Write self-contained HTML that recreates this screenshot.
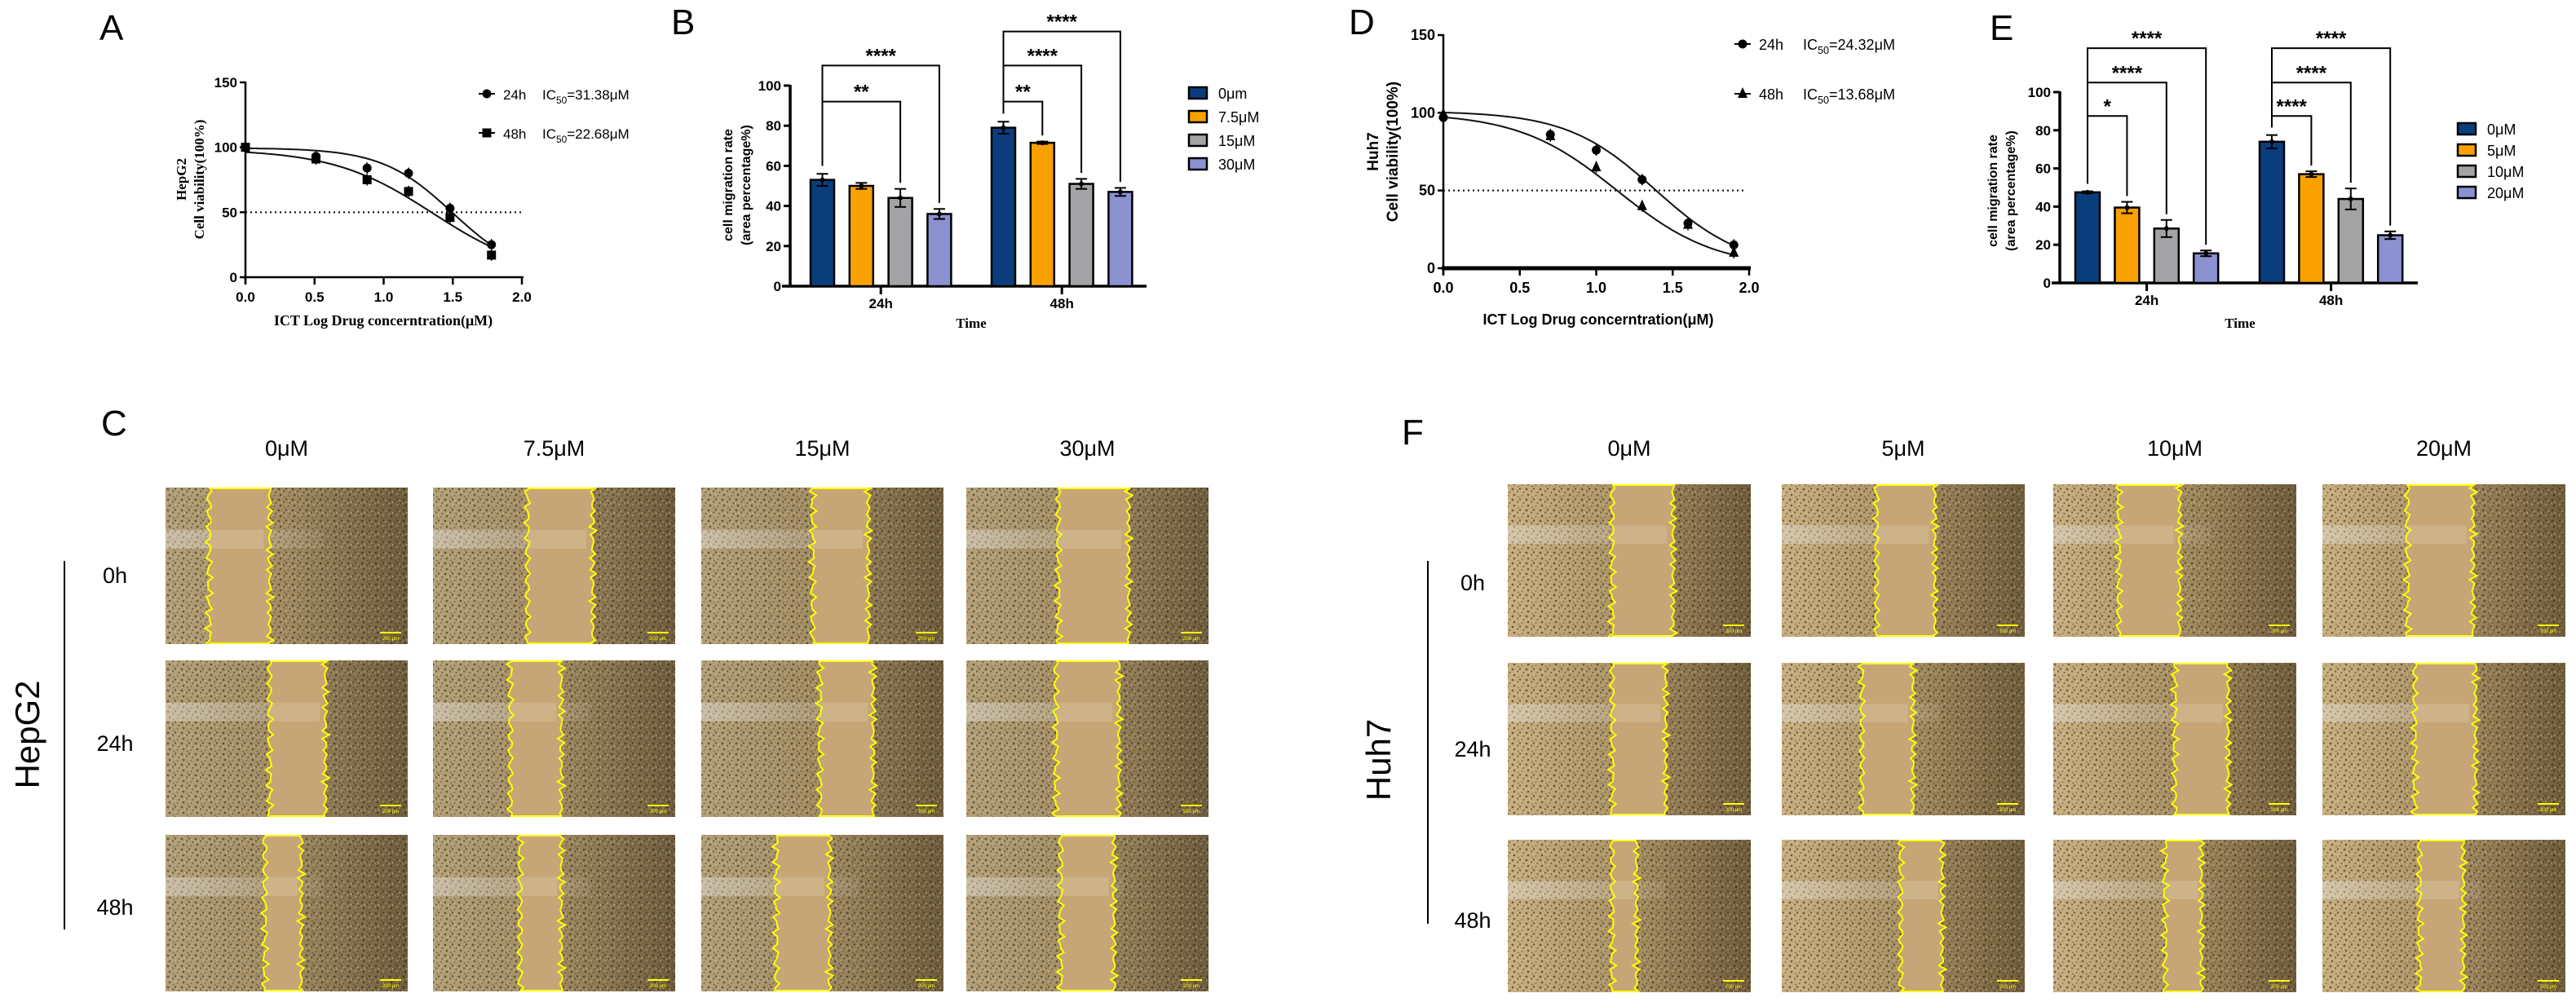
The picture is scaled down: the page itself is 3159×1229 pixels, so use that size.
<!DOCTYPE html>
<html><head><meta charset="utf-8">
<style>
html,body{margin:0;padding:0;background:#fff;}
svg{display:block;}
text{font-family:"Liberation Sans",Arial,sans-serif;}
.tm{font-family:"Liberation Serif","Times New Roman",serif;font-weight:bold;}
.b{font-weight:bold;}
</style></head>
<body>
<svg id="fig" width="3159" height="1229" viewBox="0 0 3159 1229" xmlns="http://www.w3.org/2000/svg">
<defs>
<pattern id="cells" width="17" height="13" patternUnits="userSpaceOnUse">
<circle cx="2" cy="2" r="1.4" fill="#2e2414"/><circle cx="8" cy="4.5" r="1.1" fill="#3a2e1a"/>
<circle cx="4" cy="9" r="1.3" fill="#2a2012"/><circle cx="13.5" cy="10" r="0.9" fill="#4a3c22"/>
<circle cx="11" cy="1.5" r="1.2" fill="#33281a"/><circle cx="15.5" cy="6" r="1" fill="#3a2e1a"/>
<circle cx="9" cy="11.5" r="0.8" fill="#2e2414"/>
<circle cx="5.5" cy="5" r="0.9" fill="#e8d8a8"/><circle cx="1" cy="6.5" r="0.8" fill="#e2d0a0"/>
<circle cx="14" cy="3" r="0.7" fill="#f0e0b0"/><circle cx="11" cy="8" r="0.8" fill="#e8d8a8"/>
</pattern>
<linearGradient id="bandL" x1="0" x2="1" y1="0" y2="0"><stop offset="0" stop-color="#e6e2dc" stop-opacity="0.45"/><stop offset="1" stop-color="#e6e2dc" stop-opacity="0.08"/></linearGradient>
<linearGradient id="bgC" x1="0" x2="1"><stop offset="0" stop-color="#b3a078"/><stop offset="0.5" stop-color="#a08b62"/><stop offset="1" stop-color="#6e5d3e"/></linearGradient>
<linearGradient id="bgF" x1="0" x2="1"><stop offset="0" stop-color="#c8af80"/><stop offset="0.5" stop-color="#a99064"/><stop offset="1" stop-color="#705d3c"/></linearGradient>
</defs>
<g id="root"></g>
</svg>
<script>
// ===== Panel A data (HepG2 viability) =====
const aLogConc = [0, 0.51, 0.88, 1.18, 1.48, 1.78];
const a24 = [100, 93, 84, 80, 53, 25];
const a48 = [100, 91, 75, 66, 46, 17];
const aIC50 = [31.38, 22.68];
const aHill = [1.7, 1.2];
const aTop = [99.5, 98.5];
const aYTicks = [0, 50, 100, 150];
const aXTicks = ["0.0", "0.5", "1.0", "1.5", "2.0"];
// ===== Panel D data (Huh7 viability) =====
const dLogConc = [0, 0.7, 1.0, 1.3, 1.6, 1.9];
const d24 = [97, 86, 76, 57, 29, 15];
const d48 = [99, 85, 65, 40, 28, 10];
const dIC50 = [24.32, 13.68];
const dHill = [1.5, 1.35];
const dTop = [101, 100];
// ===== Panel B data (HepG2 migration) =====
const bGroups = ["24h", "48h"];
const bSeries = ["0\u03bcm", "7.5\u03bcM", "15\u03bcM", "30\u03bcM"];
const b24 = [53, 50, 44, 36];
const b48 = [79, 71.5, 51, 47];
const b24err = [3, 1.5, 4.5, 2.5];
const b48err = [3, 0.6, 2.5, 2];
const bYTicks = [0, 20, 40, 60, 80, 100];
const bSig = [[0,0,2,"**",92],[0,0,3,"****",110],[1,0,1,"**",92],[1,0,2,"****",110],[1,0,3,"****",127]];
// ===== Panel E data (Huh7 migration) =====
const eSeries = ["0\u03bcM", "5\u03bcM", "10\u03bcM", "20\u03bcM"];
const e24 = [47.5, 39.5, 28.5, 15.5];
const e48 = [74, 57, 44, 25];
const e24err = [0.5, 3, 4.5, 1.5];
const e48err = [3.5, 1.5, 5.5, 2];
const eSig = [[0,0,1,"*",87.5],[0,0,2,"****",105],[0,0,3,"****",123],[1,0,1,"****",87.5],[1,0,2,"****",105],[1,0,3,"****",123]];
const barColors = ["#0a3d7c", "#f9a100", "#a3a3a6", "#8b91d1"];
// ===== Panel C / F wound gaps (fraction of image width) =====
const cCols = ["0\u03bcM", "7.5\u03bcM", "15\u03bcM", "30\u03bcM"];
const fCols = ["0\u03bcM", "5\u03bcM", "10\u03bcM", "20\u03bcM"];
const rowsT = ["0h", "24h", "48h"];
const cGapL = [[.18,.39,.46,.38],[.43,.32,.49,.37],[.41,.36,.31,.39]];
const cGapR = [[.43,.66,.69,.67],[.66,.53,.71,.63],[.56,.53,.53,.61]];
const fGapL = [[.43,.39,.27,.35],[.43,.33,.50,.38],[.43,.49,.46,.40]];
const fGapR = [[.68,.63,.52,.62],[.65,.54,.72,.63],[.53,.66,.61,.58]];

const NS = "http://www.w3.org/2000/svg";
const root = document.getElementById("root");
function el(tag, attrs, parent, txt) {
  const e = document.createElementNS(NS, tag);
  for (const k in attrs) e.setAttribute(k, attrs[k]);
  if (txt !== undefined) e.textContent = txt;
  (parent || root).appendChild(e);
  return e;
}
function grp(name, parent) {
  const g = el("g", {}, parent);
  
  
  return g;
}
function label(g, name, x, y, txt, attrs) {
  const t = el("text", Object.assign({x: x, y: y}, attrs || {}), g, txt);
  
  
  return t;
}

const letters = grp("panel-letters");
[["A",122,49],["B",823,42],["C",124,534],["D",1654,42],["E",2440,49],["F",1719,545]].forEach(l => {
  label(letters, "panel-label-" + l[0].toLowerCase(), l[1], l[2], l[0], {"font-size": 44});
});

function doseChart(cfg) {
  const g = grp(cfg.name);
  const sx = v => cfg.x0 + v / 2 * (cfg.x1 - cfg.x0);
  const sy = v => cfg.y0 - v / 150 * (cfg.y0 - cfg.y150);
  const ax = grp("axes", g);
  const lw = cfg.heavyX ? 5 : 2.5;
  el("line", {x1: cfg.x0, y1: cfg.y150 - 1, x2: cfg.x0, y2: cfg.y0 + 8, stroke: "#000", "stroke-width": 2.5}, ax);
  el("line", {x1: cfg.x0 - 2, y1: cfg.y0, x2: cfg.x1 + 2, y2: cfg.y0, stroke: "#000", "stroke-width": lw}, ax);
  aYTicks.forEach(t => {
    el("line", {x1: cfg.x0 - 7, y1: sy(t), x2: cfg.x0, y2: sy(t), stroke: "#000", "stroke-width": 2.5}, ax);
    label(ax, "y-tick-label", cfg.x0 - 10, sy(t) + 6, String(t), {"text-anchor": "end", "font-size": cfg.tickFs, "class": "b"});
  });
  aXTicks.forEach(t => {
    const x = sx(parseFloat(t));
    el("line", {x1: x, y1: cfg.y0, x2: x, y2: cfg.y0 + 9, stroke: "#000", "stroke-width": 2.5}, ax);
    label(ax, "x-tick-label", x, cfg.y0 + 30, t, {"text-anchor": "middle", "font-size": cfg.tickFs, "class": "b"});
  });
  el("line", {x1: cfg.x0, y1: sy(50), x2: cfg.dotEnd, y2: sy(50), stroke: "#000", "stroke-width": 2, "stroke-dasharray": "2,4"}, g);
  label(g, "x-axis-title", cfg.xlX, cfg.xlY, "ICT Log Drug concerntration(\u03bcM)", {"text-anchor": "middle", "font-size": cfg.xlFs, "class": cfg.serif ? "tm" : "b"});
  cfg.ylab.forEach((yl, i) => {
    label(g, i === 0 ? "y-axis-cell-line" : "y-axis-title", yl[0], cfg.ylY, yl[1], {"text-anchor": "middle", "font-size": cfg.ylFs, "class": cfg.serif ? "tm" : "b", transform: "rotate(-90 " + yl[0] + " " + cfg.ylY + ")"});
  });
  cfg.series.forEach((s, si) => {
    const sg = grp("series-" + s.label, g);
    const ic = Math.log10(s.ic50);
    let d = "";
    for (let k = 0; k <= 80; k++) {
      const xv = cfg.xs[cfg.xs.length - 1] * k / 80;
      const yv = s.top / (1 + Math.pow(10, (xv - ic) * s.hill));
      d += (k ? "L" : "M") + sx(xv).toFixed(1) + "," + sy(yv).toFixed(1);
    }
    const p = el("path", {d: d, fill: "none", stroke: "#111", "stroke-width": 2}, sg);
    
    s.vals.forEach((v, i) => {
      const x = sx(cfg.xs[i]), y = sy(v);
      el("line", {x1: x, y1: y - 7, x2: x, y2: y + 7, stroke: "#000", "stroke-width": 1.5}, sg);
      let m;
      if (s.marker === "circle") m = el("circle", {cx: x, cy: y, r: 5.5, fill: "#000"}, sg);
      else if (s.marker === "square") m = el("rect", {x: x - 5.5, y: y - 5.5, width: 11, height: 11, fill: "#000"}, sg);
      else m = el("path", {d: `M${x},${y-8}L${x+6},${y+5}L${x-6},${y+5}Z`, fill: "#000"}, sg);
      
      
    });
    const lg = grp("legend-entry", g);
    const ly = cfg.legY[si], lx = cfg.legX;
    el("line", {x1: lx - 10, y1: ly, x2: lx + 10, y2: ly, stroke: "#000", "stroke-width": 2}, lg);
    if (s.marker === "circle") el("circle", {cx: lx, cy: ly, r: 5.5, fill: "#000"}, lg);
    else if (s.marker === "square") el("rect", {x: lx - 5.5, y: ly - 5.5, width: 11, height: 11, fill: "#000"}, lg);
    else el("path", {d: `M${lx},${ly-8}L${lx+6},${ly+5}L${lx-6},${ly+5}Z`, fill: "#000"}, lg);
    label(lg, "legend-time", lx + 20, ly + 7, s.label, {"font-size": cfg.legFs});
    const t = label(lg, "legend-ic50", lx + cfg.icOff, ly + 7, "", {"font-size": cfg.legFs, "font-family": "Liberation Serif, serif"});
    t.textContent = "IC";
    el("tspan", {dy: 5, "font-size": cfg.legFs * 0.7}, t, "50");
    el("tspan", {dy: -5}, t, "=" + s.ic50.toFixed(2) + "\u03bcM");
  });
}
doseChart({name: "chart-a-hepg2-viability", x0: 301, x1: 640, y0: 340, y150: 101, xs: aLogConc, tickFs: 17, heavyX: false,
  dotEnd: 640, xlX: 470, xlY: 399, xlFs: 18, serif: true, ylY: 220, ylFs: 17, ylab: [[228, "HepG2"], [250, "Cell viability(100%)"]],
  legX: 597, legY: [115, 163], legFs: 17, icOff: 68,
  series: [{label: "24h", vals: a24, ic50: aIC50[0], hill: aHill[0], top: aTop[0], marker: "circle"},
           {label: "48h", vals: a48, ic50: aIC50[1], hill: aHill[1], top: aTop[1], marker: "square"}]});
doseChart({name: "chart-d-huh7-viability", x0: 1770, x1: 2145, y0: 329, y150: 43, xs: dLogConc, tickFs: 18, heavyX: true,
  dotEnd: 2139, xlX: 1960, xlY: 398, xlFs: 18, serif: false, ylY: 186, ylFs: 19, ylab: [[1690, "Huh7"], [1714, "Cell viability(100%)"]],
  legX: 2137, legY: [54, 115], legFs: 18, icOff: 74,
  series: [{label: "24h", vals: d24, ic50: dIC50[0], hill: dHill[0], top: dTop[0], marker: "circle"},
           {label: "48h", vals: d48, ic50: dIC50[1], hill: dHill[1], top: dTop[1], marker: "triangle"}]});

function barChart(cfg) {
  const g = grp(cfg.name);
  const sy = v => cfg.y0 - v / 100 * (cfg.y0 - cfg.y100);
  const bx = (gi, si) => cfg.gLeft[gi] + si * cfg.step;
  const ax = grp("axes", g);
  el("line", {x1: cfg.x0, y1: cfg.y100 - 1, x2: cfg.x0, y2: cfg.y0, stroke: "#000", "stroke-width": 3.5}, ax);
  el("line", {x1: cfg.x0 - 10, y1: cfg.y0, x2: cfg.x1, y2: cfg.y0, stroke: "#000", "stroke-width": 3.5}, ax);
  bYTicks.forEach(t => {
    el("line", {x1: cfg.x0 - 8, y1: sy(t), x2: cfg.x0, y2: sy(t), stroke: "#000", "stroke-width": 3}, ax);
    label(ax, "y-tick-label", cfg.x0 - 11, sy(t) + 6, String(t), {"text-anchor": "end", "font-size": 17, "class": "b"});
  });
  bGroups.forEach((gn, gi) => {
    const cx = bx(gi, 0) + (3 * cfg.step + cfg.w) / 2;
    el("line", {x1: cx, y1: cfg.y0, x2: cx, y2: cfg.y0 + 10, stroke: "#000", "stroke-width": 3}, ax);
    label(ax, "x-tick-label", cx, cfg.y0 + 27, gn, {"text-anchor": "middle", "font-size": 17, "class": "b"});
  });
  label(g, "x-axis-title", cfg.timeX, cfg.timeY, "Time", {"text-anchor": "middle", "font-size": 17, "class": "tm"});
  const yl = cfg.ylX;
  label(g, "y-axis-title", yl, cfg.ylY, "cell migration rate", {"text-anchor": "middle", "font-size": 16, "class": "b", transform: `rotate(-90 ${yl} ${cfg.ylY})`});
  label(g, "y-axis-title-unit", yl + 22, cfg.ylY, "(area percentage%)", {"text-anchor": "middle", "font-size": 16, "class": "b", transform: `rotate(-90 ${yl+22} ${cfg.ylY})`});
  [cfg.v24, cfg.v48].forEach((vals, gi) => {
    const errs = gi ? cfg.e48 : cfg.e24;
    vals.forEach((v, si) => {
      const x = bx(gi, si);
      const r = el("rect", {x: x, y: sy(v), width: cfg.w, height: sy(0) - sy(v), fill: barColors[si], stroke: "#000", "stroke-width": 2.5}, g);
      
      
      const cx = x + cfg.w / 2;
      el("line", {x1: cx, y1: sy(v + errs[si]), x2: cx, y2: sy(v - errs[si]), stroke: "#000", "stroke-width": 2}, g);
      el("line", {x1: cx - 7, y1: sy(v + errs[si]), x2: cx + 7, y2: sy(v + errs[si]), stroke: "#000", "stroke-width": 2}, g);
      el("line", {x1: cx - 7, y1: sy(v - errs[si]), x2: cx + 7, y2: sy(v - errs[si]), stroke: "#000", "stroke-width": 2}, g);
      el("circle", {cx: cx, cy: sy(v), r: 3, fill: "#000"}, g);
    });
  });
  cfg.sig.forEach(s => {
    const sg = grp("significance-bracket", g);
    const vals = s[0] ? cfg.v48 : cfg.v24, errs = s[0] ? cfg.e48 : cfg.e24;
    const xa = bx(s[0], s[1]) + cfg.w / 2, xb = bx(s[0], s[2]) + cfg.w / 2;
    const yb = sy(s[4]);
    const ya = sy(Math.max(vals[s[1]] + errs[s[1]] + 4, s[4] - cfg.legLen));
    const yc = sy(vals[s[2]] + errs[s[2]] + 3);
    el("path", {d: `M${xa},${ya}L${xa},${yb}L${xb},${yb}L${xb},${yc}`, fill: "none", stroke: "#000", "stroke-width": 2}, sg);
    label(sg, "significance-stars", (xa + xb) / 2, yb - 4, s[3], {"text-anchor": "middle", "font-size": 24, "class": "b"});
  });
  cfg.series.forEach((sn, si) => {
    const lg = grp("legend-entry", g);
    const ly = cfg.legY0 + si * cfg.legDy;
    el("rect", {x: cfg.legX, y: ly - 7, width: 22, height: 14, fill: barColors[si], stroke: "#000", "stroke-width": 2.5}, lg);
    label(lg, "legend-label", cfg.legX + 36, ly + 7, sn, {"font-size": 18});
  });
}
barChart({name: "chart-b-hepg2-migration", x0: 969, x1: 1406, y0: 351, y100: 105, gLeft: [994, 1216], step: 47.8, w: 29,
  v24: b24, v48: b48, e24: b24err, e48: b48err, sig: bSig, series: bSeries, legLen: 60,
  timeX: 1191, timeY: 402, ylX: 898, ylY: 227, legX: 1458, legY0: 114, legDy: 29});
barChart({name: "chart-e-huh7-migration", x0: 2526, x1: 2965, y0: 347, y100: 113, gLeft: [2545, 2771], step: 48.4, w: 30,
  v24: e24, v48: e48, e24: e24err, e48: e48err, sig: eSig, series: eSeries, legLen: 60,
  timeX: 2747, timeY: 402, ylX: 2449, ylY: 234, legX: 3014, legY0: 158, legDy: 26});

function photoGrid(cfg) {
  const g = grp(cfg.name);
  cfg.cols.forEach((c, ci) => {
    label(g, "column-header", cfg.colX[ci] + cfg.w / 2, 559, c, {"text-anchor": "middle", "font-size": 27});
  });
  rowsT.forEach((r, ri) => {
    label(g, "row-label", cfg.rowLX, cfg.rowLY[ri], r, {"text-anchor": "middle", "font-size": 27});
  });
  el("line", {x1: cfg.lineX, y1: cfg.lineY[0], x2: cfg.lineX, y2: cfg.lineY[1], stroke: "#000", "stroke-width": 2}, g);
  label(g, "cell-line-label", cfg.cellX, cfg.cellY, cfg.cell, {"text-anchor": "middle", "font-size": 42, transform: `rotate(-90 ${cfg.cellX} ${cfg.cellY})`});
  rowsT.forEach((r, ri) => {
    cfg.cols.forEach((c, ci) => {
      const x = cfg.colX[ci], y = cfg.rowY[ri], w = cfg.w, h = cfg.h;
      const pg = grp("wound-image-" + r + "-" + ci, g);
      el("rect", {x: x, y: y, width: w, height: h, fill: cfg.bg}, pg);
      el("rect", {x: x, y: y, width: w, height: h, fill: "url(#cells)", opacity: 0.6}, pg);
      el("rect", {x: x, y: y + h * 0.27, width: w * 0.65, height: h * 0.12, fill: "url(#bandL)"}, pg);
      const gl = cfg.gl[ri][ci], gr = cfg.gr[ri][ci];
      let dl = "", dr = "", pts = [];
      const N = 40;
      for (let k = 0; k <= N; k++) {
        const yy = y + h * k / N;
        const wl = x + w * gl + 3 * Math.sin(k * 1.7 + ri + ci * 2) + 2 * Math.sin(k * 3.1 + ci);
        pts.push([wl, yy]);
        dl += (k ? "L" : "M") + wl.toFixed(1) + "," + yy.toFixed(1);
      }
      const rpts = [];
      for (let k = N; k >= 0; k--) {
        const yy = y + h * k / N;
        const wr = x + w * gr + 3 * Math.sin(k * 2.3 + ri * 2 + ci) + 2 * Math.cos(k * 2.9 + ri);
        rpts.push([wr, yy]);
        dr += (k === N ? "M" : "L") + wr.toFixed(1) + "," + yy.toFixed(1);
      }
      const poly = pts.concat(rpts).map(p => p[0].toFixed(1) + "," + p[1].toFixed(1)).join(" ");
      const gap = el("polygon", {points: poly, fill: "#c6a676"}, pg);
      
      el("rect", {x: x + w * gl, y: y + h * 0.27, width: w * (gr - gl) * 0.9, height: h * 0.12, fill: "#e8dcc4", opacity: 0.25}, pg);
      el("path", {d: dl, fill: "none", stroke: "#ffff00", "stroke-width": 2}, pg);
      el("path", {d: dr, fill: "none", stroke: "#ffff00", "stroke-width": 2}, pg);
      el("line", {x1: x + w * gl, y1: y + 1, x2: x + w * gr, y2: y + 1, stroke: "#ffff00", "stroke-width": 2}, pg);
      el("line", {x1: x + w * gl, y1: y + h - 1, x2: x + w * gr, y2: y + h - 1, stroke: "#ffff00", "stroke-width": 2}, pg);
      el("line", {x1: x + w - 34, y1: y + h - 14, x2: x + w - 8, y2: y + h - 14, stroke: "#ffff00", "stroke-width": 2}, pg);
      label(pg, "scale-bar-label", x + w - 21, y + h - 5, "200 \u03bcm", {"text-anchor": "middle", "font-size": 6, fill: "#ffff00"});
    });
  });
}
photoGrid({name: "panel-c-hepg2-wound", cols: cCols, colX: [203, 531, 860, 1185], w: 297, rowY: [598, 810, 1024], h: 192,
  gl: cGapL, gr: cGapR, bg: "url(#bgC)", rowLX: 141, rowLY: [715, 921, 1122], lineX: 79, lineY: [688, 1140],
  cell: "HepG2", cellX: 48, cellY: 901});
photoGrid({name: "panel-f-huh7-wound", cols: fCols, colX: [1849, 2185, 2518, 2848], w: 298, rowY: [594, 813, 1030], h: 187,
  gl: fGapL, gr: fGapR, bg: "url(#bgF)", rowLX: 1806, rowLY: [724, 928, 1138], lineX: 1751, lineY: [688, 1133],
  cell: "Huh7", cellX: 1705, cellY: 932});
</script>
</body></html>
